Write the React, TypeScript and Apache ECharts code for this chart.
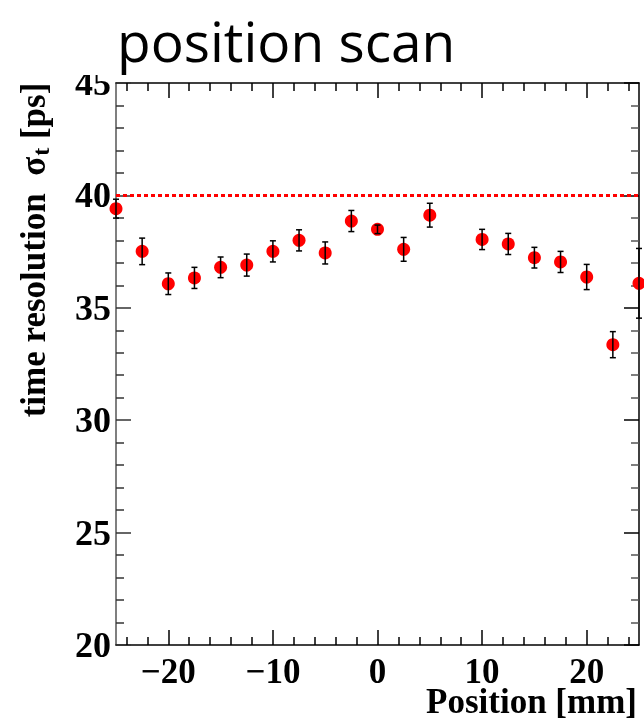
import React, { useEffect, useRef } from "react";
import * as echarts from "echarts";

const positions = [-25, -22.5, -20, -17.5, -15, -12.5, -10, -7.5, -5, -2.5, 0, 2.5, 5, 10, 12.5, 15, 17.5, 20, 22.5, 25];
const resolution = [39.41, 37.51, 36.07, 36.33, 36.8, 36.9, 37.51, 38.0, 37.44, 38.86, 38.49, 37.6, 39.12, 38.04, 37.84, 37.23, 37.04, 36.37, 33.36, 36.09];
const errors = [0.42, 0.59, 0.48, 0.47, 0.46, 0.49, 0.47, 0.47, 0.49, 0.47, 0.19, 0.53, 0.53, 0.45, 0.47, 0.46, 0.47, 0.56, 0.58, 1.55];
const refLevel = 40;
const xMajorTicks = [-20, -10, 0, 10, 20];
const xMinorTicks = [-24, -22, -18, -16, -14, -12, -8, -6, -4, -2, 2, 4, 6, 8, 12, 14, 16, 18, 22, 24];
const titleText = "position scan";
const xTitle = "Position [mm]";

const SERIF = "'Liberation Serif', 'Times New Roman', serif";

export default function App() {
  const ref = useRef<HTMLDivElement>(null);
  useEffect(() => {
    if (!ref.current) return;
    const chart = echarts.init(ref.current, null, { renderer: "svg" });
    const tickStyle = { color: "#000", width: 1.5 };
    const fmt = (v: number) => (v < 0 ? "\u2212" + Math.abs(v) : String(v));
    const xBase = {
      type: "value",
      min: -25,
      max: 25,
      splitLine: { show: false },
    } as any;
    const option: any = {
      animation: false,
      grid: { left: 116, top: 83, right: 5, bottom: 75, containLabel: false },
      xAxis: [
        {
          ...xBase,
          position: "bottom",
          axisLine: { show: true, onZero: false, lineStyle: { color: "#000", width: 1.5 } },
          axisTick: { show: true, inside: true, length: 15, customValues: xMajorTicks, lineStyle: tickStyle },
          axisLabel: {
            show: true,
            customValues: xMajorTicks,
            formatter: fmt,
            fontFamily: SERIF,
            fontWeight: "bold",
            fontSize: 35,
            color: "#000",
            margin: 9,
          },
        },
        {
          ...xBase,
          position: "bottom",
          axisLine: { show: false, onZero: false },
          axisTick: { show: true, inside: true, length: 8, customValues: xMinorTicks, lineStyle: tickStyle },
          axisLabel: { show: false },
        },
        {
          ...xBase,
          position: "top",
          axisLine: { show: true, onZero: false, lineStyle: { color: "#000", width: 1.5 } },
          axisTick: { show: true, inside: true, length: 15, customValues: xMajorTicks, lineStyle: tickStyle },
          axisLabel: { show: false },
        },
        {
          ...xBase,
          position: "top",
          axisLine: { show: false, onZero: false },
          axisTick: { show: true, inside: true, length: 8, customValues: xMinorTicks, lineStyle: tickStyle },
          axisLabel: { show: false },
        },
      ],
      yAxis: [
        {
          type: "value",
          min: 20,
          max: 45,
          interval: 5,
          position: "left",
          axisLine: { show: true, onZero: false, lineStyle: { color: "#555", width: 1.5 } },
          axisTick: { show: true, inside: true, length: 15, lineStyle: { color: "#333", width: 1.5 } },
          minorTick: { show: true, splitNumber: 5, length: 8, lineStyle: { color: "#333", width: 1.5 } },
          axisLabel: {
            fontFamily: SERIF,
            fontWeight: "bold",
            fontSize: 36,
            color: "#000",
            margin: 5,
          },
          splitLine: { show: false },
          minorSplitLine: { show: false },
        },
        {
          type: "value",
          min: 20,
          max: 45,
          interval: 5,
          position: "right",
          axisLine: { show: true, onZero: false, lineStyle: { color: "#000", width: 1.5 } },
          axisTick: { show: true, inside: true, length: 15, lineStyle: { color: "#000", width: 1.5 } },
          minorTick: { show: true, splitNumber: 5, length: 8, lineStyle: { color: "#555", width: 1.5 } },
          axisLabel: { show: false },
          splitLine: { show: false },
          minorSplitLine: { show: false },
        },
      ],
      series: [
        {
          type: "line",
          data: [[-25, refLevel], [25, refLevel]],
          symbol: "none",
          lineStyle: { color: "#ff0000", width: 3, type: [4, 3] },
          z: 1,
          silent: true,
        },
        {
          type: "scatter",
          data: positions.map((p, i) => [p, resolution[i]]),
          symbol: "circle",
          symbolSize: 13,
          itemStyle: { color: "#ff0000", opacity: 1 },
          clip: false,
          z: 2,
        },
        {
          type: "custom",
          data: positions.map((p, i) => [p, resolution[i], errors[i]]),
          encode: { x: 0, y: 1 },
          clip: false,
          z: 3,
          renderItem: (params: any, api: any) => {
            const x = api.value(0);
            const y = api.value(1);
            const e = api.value(2);
            const top = api.coord([x, y + e]);
            const bot = api.coord([x, y - e]);
            const hw = 3;
            const st = { stroke: "#000", lineWidth: 1.5 };
            return {
              type: "group",
              children: [
                { type: "line", shape: { x1: top[0], y1: top[1], x2: bot[0], y2: bot[1] }, style: st },
                { type: "line", shape: { x1: top[0] - hw, y1: top[1], x2: top[0] + hw, y2: top[1] }, style: st },
                { type: "line", shape: { x1: bot[0] - hw, y1: bot[1], x2: bot[0] + hw, y2: bot[1] }, style: st },
              ],
            };
          },
        },
      ],
      graphic: [
        {
          type: "rect",
          shape: { x: 60, y: 40, width: 54, height: 35 },
          style: { fill: "#fff" },
          z: 100,
        },
        {
          type: "text",
          x: 117,
          y: 40,
          z: 101,
          style: {
            text: titleText,
            font: "55px 'Open Sans'",
            fill: "#000",
            textAlign: "left",
            textVerticalAlign: "middle",
          },
        },
        {
          type: "text",
          x: 637,
          y: 701,
          z: 101,
          style: {
            text: xTitle,
            fontFamily: SERIF,
            fontWeight: "bold",
            fontSize: 35,
            fill: "#000",
            textAlign: "right",
            textVerticalAlign: "middle",
          },
        },
        {
          type: "text",
          x: 33,
          y: 250,
          rotation: Math.PI / 2,
          z: 101,
          style: {
            text: "{a|time resolution  \u03c3}{s|t}{a| [ps]}",
            textAlign: "center",
            textVerticalAlign: "middle",
            fill: "#000",
            rich: {
              a: { fontFamily: SERIF, fontWeight: "bold", fontSize: 35, lineHeight: 40, fill: "#000" },
              s: { fontFamily: SERIF, fontWeight: "bold", fontSize: 24, lineHeight: 40, fill: "#000", padding: [16, 0, 0, 1] },
            },
          },
        },
      ],
    };
    chart.setOption(option);
    return () => chart.dispose();
  }, []);
  return <div ref={ref} style={{ position: "fixed", left: 0, top: 0, width: 644, height: 720 }} />;
}
